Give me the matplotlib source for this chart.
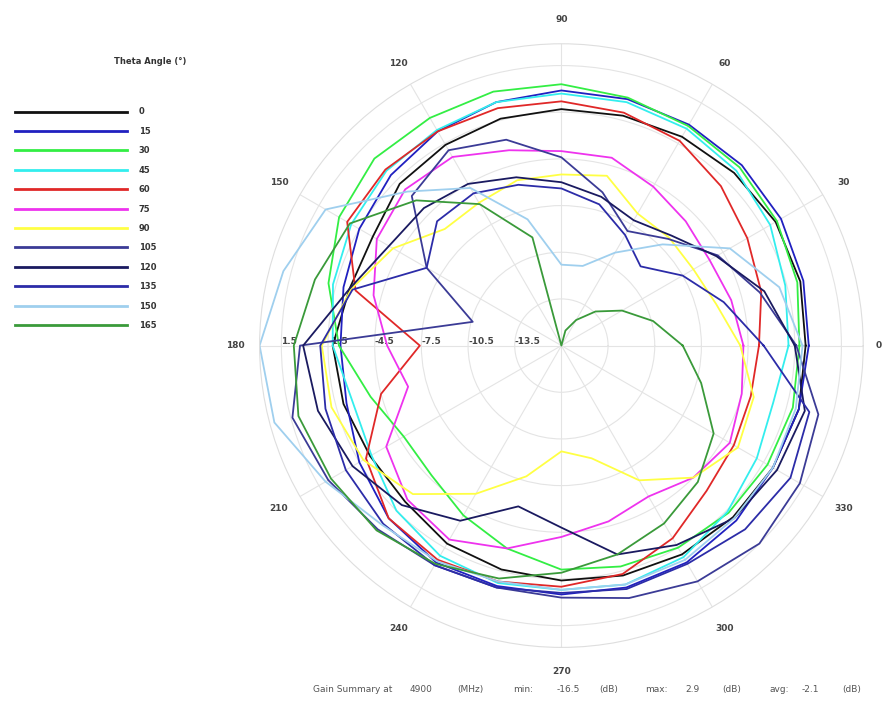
import numpy as np
import matplotlib.pyplot as plt

# phi cut angles (deg), one sample every 15 deg
phi = np.arange(0, 360, 15)

theta_angles = [0, 15, 30, 45, 60, 75, 90, 105, 120, 135, 150, 165]
colors = ["#111111", "#2020c0", "#33ee44", "#33eeee", "#e02828", "#ee33ee",
          "#ffff44", "#3b3b96", "#1a1a60", "#2c2ca8", "#9fcfee", "#3a9a3a"]

# gain (dB) per theta cut, phi = 0..345
g0 = [-0.8, -0.6, -0.6, -0.8, -1.0, -1.2, -1.3, -1.4, -1.6, -1.8, -2.5, -2.4,
      -1.8, -2.0, -2.3, -2.3, -1.8, -1.6, -1.4, -1.2, -1.0, -0.9, -0.8, -0.7]
g15 = [-0.6, -0.4, -0.2, -0.1, -0.1, -0.1, -0.1, -0.3, -0.6, -1.0, -1.5, -2.0,
       -2.3, -2.2, -1.5, -0.8, -0.4, -0.5, -0.5, -0.4, -0.4, -0.6, -0.8, -0.7]
g30 = [-1.2, -0.8, -0.5, -0.3, -0.2, 0.0, 0.3, 0.4, 0.4, 0.5, 0.0, -1.0,
       -2.2, -3.8, -4.8, -4.7, -3.9, -3.0, -2.1, -1.8, -1.5, -1.3, -1.2, -1.1]
g45 = [-1.9, -1.6, -1.0, -0.6, -0.4, -0.3, -0.3, -0.3, -0.5, -0.6, -0.9, -1.3,
       -1.8, -2.6, -2.4, -1.5, -0.9, -0.7, -0.8, -0.6, -0.8, -1.4, -2.0, -2.4]
g60 = [-3.8, -3.2, -2.7, -2.0, -1.3, -1.0, -0.8, -0.7, -0.6, -0.5, -0.6, -2.8,
       -7.4, -4.5, -2.0, -0.8, -0.6, -0.8, -1.0, -1.3, -2.2, -3.3, -3.7, -3.9]
g75 = [-4.8, -5.2, -5.5, -5.2, -4.7, -4.0, -4.0, -3.5, -2.5, -2.3, -2.8, -4.0,
       -5.3, -6.3, -3.5, -2.5, -2.1, -3.0, -4.2, -4.8, -5.3, -4.5, -4.0, -4.5]
g90 = [-5.0, -6.2, -6.7, -6.7, -6.7, -5.2, -5.5, -5.5, -5.9, -5.9, -4.0, -2.5,
       -1.1, -1.2, -1.8, -3.0, -5.5, -7.8, -9.7, -9.0, -6.5, -4.5, -3.4, -3.7]
g105 = [-1.4, -3.3, -4.9, -6.8, -8.0, -6.3, -4.4, -2.8, -2.0, -2.9, -6.5, -10.6,
        0.3, 1.4, 0.8, 0.2, -0.2, -0.4, -0.3, 0.3, 1.0, 1.5, 1.2, 0.6]
g120 = [-1.5, -3.0, -5.0, -6.5, -7.2, -6.6, -6.0, -5.3, -4.5, -4.0, -3.7, -2.4,
        0.1, -0.3, -1.0, -2.0, -3.5, -5.8, -4.8, -2.6, -1.7, -0.8, -0.5, -0.3]
g135 = [-3.5, -5.7, -7.5, -9.3, -8.3, -7.1, -6.4, -5.8, -5.2, -5.2, -6.5, -2.6,
        -1.0, -0.8, -0.5, -0.3, -0.2, -0.4, -0.6, -0.3, -0.3, 0.2, 0.5, 0.0]
g150 = [-1.0, -2.0, -4.0, -7.3, -9.6, -11.2, -11.3, -8.1, -4.8, -2.5, 1.0, 2.0,
        2.9, 2.6, 1.0, -0.2, -0.5, -0.8, -0.8, -0.6, -0.6, -0.8, -0.8, -0.9]
g165 = [-8.7, -10.4, -12.0, -13.4, -14.6, -15.5, -16.5, -9.3, -6.0, -3.3, -0.8, -0.1,
        0.7, 1.0, 0.6, 0.3, -0.3, -1.0, -1.9, -2.6, -3.3, -4.1, -5.2, -7.2]

gains = [g0, g15, g30, g45, g60, g75, g90, g105, g120, g135, g150, g165]

r_min, r_max = -16.5, 2.9
r_ticks = [-13.5, -10.5, -7.5, -4.5, -1.5, 1.5]

# summary line pieces and their left edge (px)
summary = ["Gain Summary at", "4900", "(MHz)", "min:", "-16.5", "(dB)",
           "max:", "2.9", "(dB)", "avg:", "-2.1", "(dB)"]
summary_x = [313, 410, 457, 513, 557, 599, 645, 685, 722, 769, 802, 842]

W, H = 882, 706
fig = plt.figure(figsize=(W / 100, H / 100), dpi=100)
ax = fig.add_axes([0.294, 0.083, 0.685, 0.855], projection="polar")

t = np.deg2rad(np.append(phi, phi[0]))
for ang, col, g in zip(theta_angles, colors, gains):
    ax.plot(t, g + g[:1], color=col, lw=1.3, label=str(ang))

ax.set_ylim(r_min, r_max)
ax.set_yticks(r_ticks)
ax.set_yticklabels([f"{v:.1f}" for v in r_ticks], fontsize=6.5,
                   fontweight="bold", color="#444444")
ax.set_rlabel_position(180)

# the 0 label sits right at the figure edge, so it is placed by hand
spokes = np.arange(0, 360, 30)
ax.set_thetagrids(spokes, labels=[str(s) if s else "" for s in spokes],
                  fontsize=6.5, fontweight="bold", color="#444444")
ax.tick_params(axis="x", pad=7)
ax.annotate("0", xy=(0, r_max), xytext=(11, 0), textcoords="offset points",
            ha="center", va="center", fontsize=6.5, fontweight="bold",
            color="#444444", annotation_clip=False)
ax.grid(color="#e4e4e4", lw=0.8)
ax.spines["polar"].set_color("#dedede")

fig.text(0.17, 1 - 62 / H, "Theta Angle (°)", ha="center", va="center",
         fontsize=6, fontweight="bold", color="#333333")
leg = fig.legend(loc="upper left", bbox_to_anchor=(0.008, 1 - 100 / H),
                 frameon=False, fontsize=6, handlelength=13.5,
                 labelspacing=1.25, handletextpad=1.4)
for txt in leg.get_texts():
    txt.set_fontweight("bold")
    txt.set_color("#333333")
for line in leg.get_lines():
    line.set_linewidth(2.0)

for s, x in zip(summary, summary_x):
    fig.text(x / W, 1 - 692 / H, s, ha="left", va="baseline",
             fontsize=6.5, color="#555555")

fig.savefig("out.png", dpi=100)
